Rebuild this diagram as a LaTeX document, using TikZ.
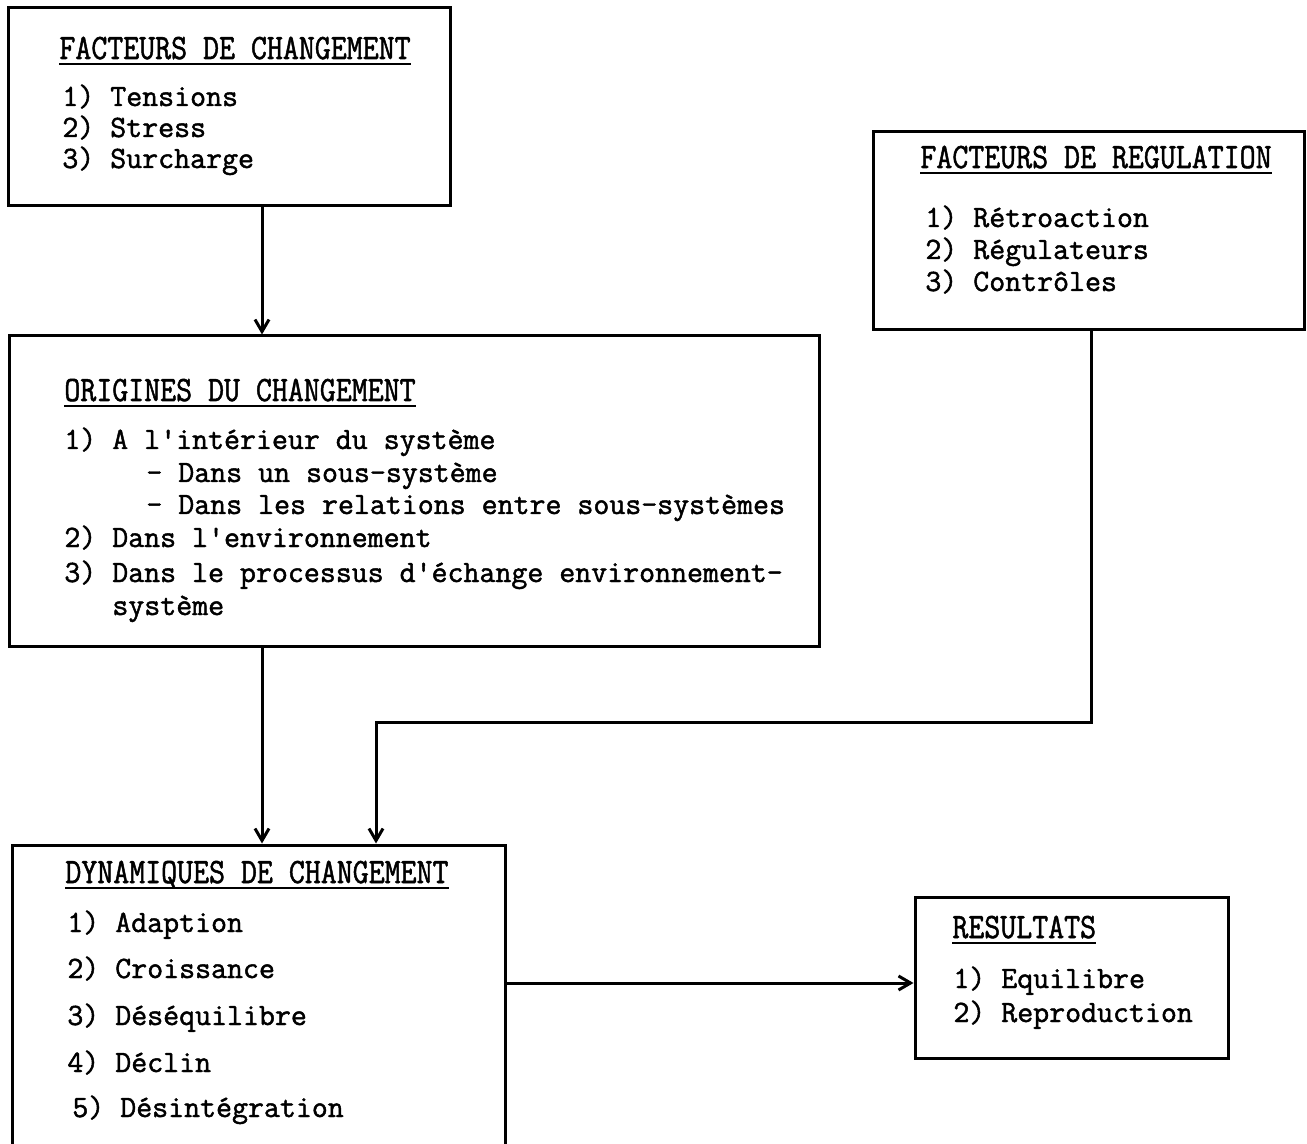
\documentclass[tikz,border=0pt]{standalone}
\usepackage{fontspec}
\usepackage{graphicx}
\usetikzlibrary{arrows.meta,fit}
% typewriter face for all the text
\newfontfamily\tw{Latin Modern Mono}[FakeBold=1.5,Ligatures=TeXOff]
\newcommand\twsize{\fontsize{15.5}{18}\selectfont}
% headings: same face, a little taller
\newcommand\hd[1]{\scalebox{1}[1.15]{#1}}

\begin{document}
\begin{tikzpicture}[x=0.5pt,y=-0.5pt,
  box/.style={draw, line width=1.5pt, inner sep=0pt, rectangle},
  item/.style={anchor=base west, inner sep=0pt, font=\tw\twsize},
  head/.style={anchor=base west, inner sep=0pt, font=\tw\twsize},
  rule/.style={line width=1.2pt},
  link/.style={line width=1.5pt},
  arr/.style={link, -{Straight Barb[length=6pt,width=7pt]}}]
\useasboundingbox[fill=white] (0,0) rectangle (1307,1144);

% ---- boxes
\node[box, fit={(8,8) (450,206)}]      (b1) {};
\node[box, fit={(9,336) (819,646)}]    (b2) {};
\node[box, fit={(873,132) (1304,330)}] (b3) {};
\node[box, fit={(12,845) (505,1146)}]  (b4) {};
\node[box, fit={(915,897) (1228,1058)}] (b5) {};

% ---- headings with underlines
\node[head] (h1) at (59,59)   {\hd{FACTEURS DE CHANGEMENT}};
\node[head] (h2) at (64,401)  {\hd{ORIGINES DU CHANGEMENT}};
\node[head] (h3) at (920,168) {\hd{FACTEURS DE REGULATION}};
\node[head] (h4) at (65,883)  {\hd{DYNAMIQUES DE CHANGEMENT}};
\node[head] (h5) at (952,938) {\hd{RESULTATS}};
\foreach \h in {h1,h2,h3,h4,h5}
  \draw[rule] ([yshift=-2.5pt]\h.base west) -- ([yshift=-2.5pt]\h.base east);

% ---- box contents
\node[item] (t11) at (62,106) {1) Tensions};
\node[item] (t12) at (62,137) {2) Stress};
\node[item] (t13) at (62,168) {3) Surcharge};

\node[item] (t21) at (64,449)  {1) A l'intérieur du système};
\node[item] (t22) at (146,482) {- Dans un sous-système};
\node[item] (t23) at (146,514) {- Dans les relations entre sous-systèmes};
\node[item] (t24) at (64,547)  {2) Dans l'environnement};
\node[item] (t25) at (64,582)  {3) Dans le processus d'échange environnement-};
\node[item] (t26) at (112,615) {système};

\node[item] (t31) at (925,227) {1) Rétroaction};
\node[item] (t32) at (925,259) {2) Régulateurs};
\node[item] (t33) at (925,291) {3) Contrôles};

\node[item] (t41) at (67,932)  {1) Adaption};
\node[item] (t42) at (67,978)  {2) Croissance};
\node[item] (t43) at (67,1025) {3) Déséquilibre};
\node[item] (t44) at (67,1072) {4) Déclin};
\node[item] (t45) at (72,1117) {5) Désintégration};

\node[item] (t51) at (953,988)  {1) Equilibre};
\node[item] (t52) at (953,1022) {2) Reproduction};

% ---- connectors
\coordinate (s1) at (262,0);
\coordinate (s2) at (1091,0);
\coordinate (k)  at (376,722);
\coordinate (r)  at (0,983);
\draw[arr] (b1.south -| s1) -- (b2.north -| s1);
\draw[arr] (b2.south -| s1) -- (b4.north -| s1);
\draw[arr] (b3.south -| s2) |- (k) -- (b4.north -| k);
\draw[arr] (b4.east |- r) -- (b5.west |- r);
\end{tikzpicture}
\end{document}
